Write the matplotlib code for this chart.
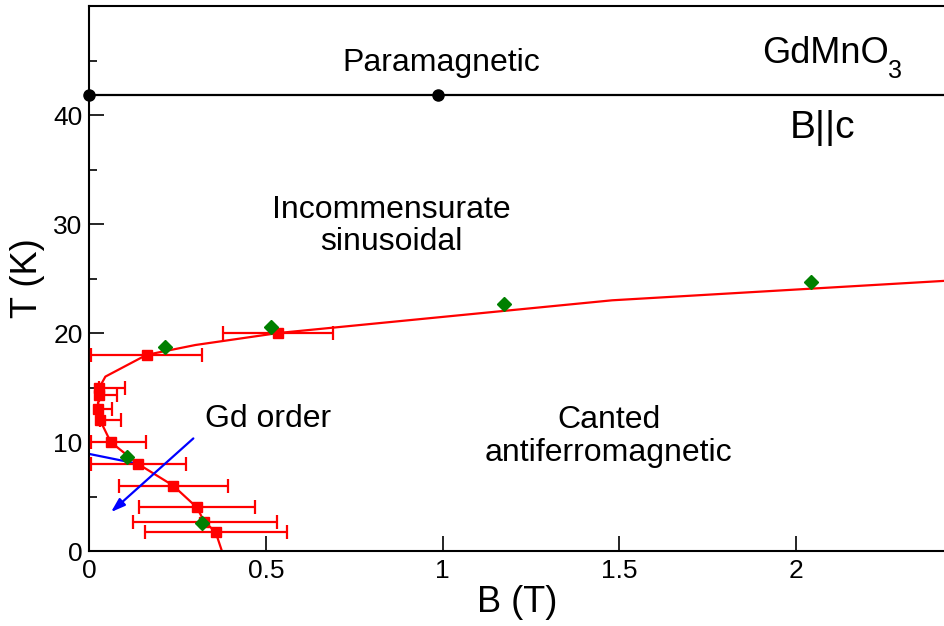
import matplotlib.pyplot as plt

plt.rcParams['font.family'] = ['Liberation Sans', 'DejaVu Sans']

# squares with horizontal error bars (B, T, B_low, B_high)
sq_B = [0.535, 0.162, 0.028, 0.026, 0.024, 0.030, 0.060, 0.137, 0.237, 0.304, 0.325, 0.357]
sq_T = [20.0, 18.0, 15.0, 14.3, 13.0, 12.0, 10.0, 8.0, 6.0, 4.0, 2.7, 1.75]
sq_lo = [0.378, 0.005, 0.028, 0.026, 0.024, 0.030, 0.005, 0.005, 0.083, 0.140, 0.123, 0.157]
sq_hi = [0.690, 0.320, 0.100, 0.077, 0.063, 0.088, 0.160, 0.273, 0.393, 0.470, 0.530, 0.560]

# red phase boundary
line_B = [0.375, 0.357, 0.325, 0.304, 0.237, 0.137, 0.060, 0.030, 0.024, 0.026, 0.028, 0.045, 0.162, 0.30, 0.535, 1.48, 2.43]
line_T = [0.0, 1.75, 2.7, 4.0, 6.0, 8.0, 10.0, 12.0, 13.0, 14.3, 15.0, 16.0, 18.0, 18.9, 20.0, 23.0, 24.8]

# green diamonds
dia_B = [0.213, 0.105, 0.320, 0.515, 1.175, 2.043]
dia_T = [18.7, 8.6, 2.6, 20.55, 22.66, 24.7]

# paramagnetic boundary
para_B = [0.0, 0.987]
para_T = [41.8, 41.8]

# Gd order line
gd_B = [0.0, 0.137]
gd_T = [8.9, 8.0]

fig = plt.figure(figsize=(9.45, 6.26), dpi=100)
ax = fig.add_axes([0.0947, 0.1198, 0.9053, 0.8706])

ax.plot(line_B, line_T, color='red', lw=1.6, zorder=2)
xerr = [[b - l for b, l in zip(sq_B, sq_lo)], [h - b for b, h in zip(sq_B, sq_hi)]]
ax.errorbar(sq_B, sq_T, xerr=xerr, fmt='s', color='red', ms=7.5, elinewidth=1.6,
            capsize=5, capthick=1.6, zorder=3)
ax.plot(dia_B, dia_T, 'D', color='#008000', ms=7.5, zorder=4)

ax.axhline(para_T[0], color='black', lw=1.6, zorder=2)
ax.plot(para_B, para_T, 'o', color='black', ms=8, clip_on=False, zorder=5)

ax.plot(gd_B, gd_T, color='blue', lw=1.6, zorder=2)
ax.annotate('', xy=(0.055, 3.4), xytext=(0.3, 10.5),
            arrowprops=dict(arrowstyle='-|>,head_length=0.6,head_width=0.2',
                            color='blue', lw=1.6, mutation_scale=14))

fs = 23
ax.text(0.997, 44.8, 'Paramagnetic', fontsize=fs, ha='center', va='center')
ax.text(1.905, 44.8, 'GdMnO', fontsize=26, ha='left', va='baseline')
ax.text(2.262, 43.4, '3', fontsize=18, ha='left', va='baseline')
ax.text(1.984, 37.9, 'B||c', fontsize=28, ha='left', va='baseline')
ax.text(0.856, 29.8, 'Incommensurate\nsinusoidal', fontsize=fs, ha='center', va='center',
        linespacing=1.1)
ax.text(0.327, 12.1, 'Gd order', fontsize=fs, ha='left', va='center')
ax.text(1.47, 10.5, 'Canted\nantiferromagnetic', fontsize=fs, ha='center', va='center',
        linespacing=1.1)

ax.set_xlim(0, 2.423)
ax.set_ylim(0, 50)
ax.set_xticks([0, 0.5, 1, 1.5, 2])
ax.set_xticklabels(['0', '0.5', '1', '1.5', '2'])
ax.set_yticks([0, 10, 20, 30, 40])
ax.set_yticks([5, 15, 25, 35, 45], minor=True)
ax.tick_params(axis='both', which='major', direction='in', length=11, width=1.2, labelsize=19)
ax.tick_params(axis='x', which='major', pad=6)
ax.tick_params(axis='y', which='major', pad=5)
ax.tick_params(axis='y', which='minor', direction='in', length=6, width=1.2)
ax.spines['right'].set_visible(False)
for s in ['left', 'top', 'bottom']:
    ax.spines[s].set_linewidth(1.5)

ax.set_xlabel('B (T)', fontsize=26, labelpad=1)
ax.set_ylabel('T (K)', fontsize=26, labelpad=6)

fig.savefig('out.png', dpi=100)
